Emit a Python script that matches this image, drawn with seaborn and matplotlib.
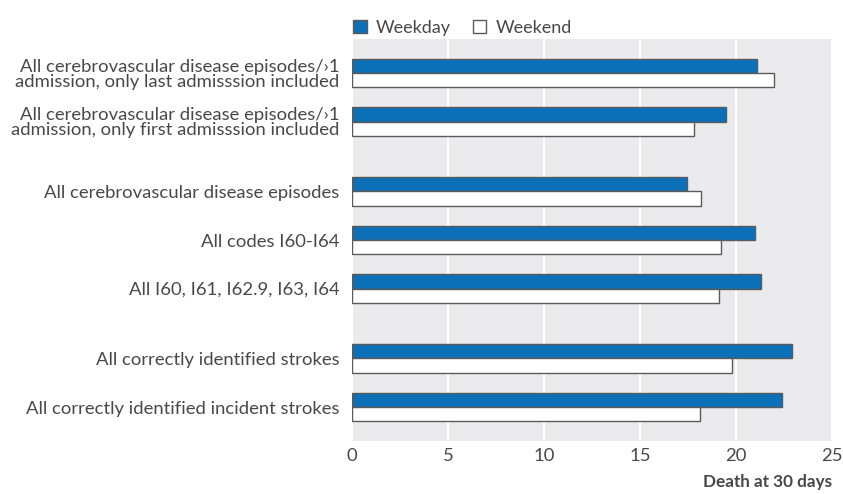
import pandas as pd
import matplotlib.pyplot as plt
import seaborn as sns

categories = [
    'All cerebrovascular disease episodes/\u203a1\nadmission, only last admisssion included',
    'All cerebrovascular disease episodes/\u203a1\nadmission, only first admisssion included',
    'All cerebrovascular disease episodes',
    'All codes I60-I64',
    'All I60, I61, I62.9, I63, I64',
    'All correctly identified strokes',
    'All correctly identified incident strokes',
]
groups = [0, 0, 1, 1, 1, 2, 2]
weekday = [21.1, 19.5, 17.45, 21.0, 21.3, 22.9, 22.4]
weekend = [22.0, 17.8, 18.2, 19.2, 19.1, 19.8, 18.1]
series = ['Weekday', 'Weekend']

sns.set_style('white')
plt.rcParams['font.family'] = ['Lato', 'DejaVu Sans']

gap = 0.44
pos = [i + gap * g for i, g in enumerate(groups)]
df = pd.DataFrame({
    'pos': pos * 2,
    'value': weekday + weekend,
    'series': [series[0]] * len(pos) + [series[1]] * len(pos),
})

fig = plt.figure(figsize=(8.43, 4.94), dpi=100)
ax = fig.add_axes([0.4176, 0.1073, 0.5694, 0.8137])
ax.set_facecolor('#ebebed')

sns.barplot(data=df, x='value', y='pos', hue='series', orient='y', native_scale=True,
            width=0.58, palette={'Weekday': '#0c70b8', 'Weekend': 'white'}, saturation=1,
            edgecolor='#5a5a5a', linewidth=1.0, ax=ax, legend=True)

ax.set_xlim(0, 25)
ax.set_ylim(max(pos) + 0.7, -0.7)
ax.set_xticks([0, 5, 10, 15, 20, 25])
ax.set_yticks(pos)
ax.set_yticklabels(categories, linespacing=0.95)
ax.xaxis.grid(True, color='white', linewidth=1.5)
ax.set_axisbelow(True)
for s in ax.spines.values():
    s.set_visible(False)
ax.tick_params(axis='both', length=0, labelsize=13.3, colors='#484848')
ax.tick_params(axis='y', pad=9)
ax.tick_params(axis='x', pad=5)
ax.set_ylabel('')
ax.set_xlabel('Death at 30 days', fontweight='bold', fontsize=12.3, color='#484848',
              loc='right', labelpad=7)

handles, labels = ax.get_legend_handles_labels()
ax.legend(handles, labels, ncol=2, frameon=False, loc='lower left',
          bbox_to_anchor=(-0.012, 0.99), fontsize=13, handlelength=0.75, handleheight=0.75,
          columnspacing=1.2, handletextpad=0.5, borderaxespad=0.0, labelcolor='#484848')

fig.savefig('out.png', dpi=100)
